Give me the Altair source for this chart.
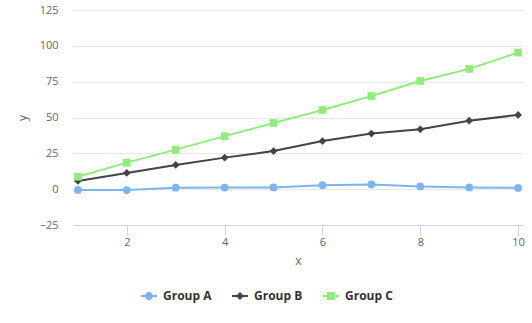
import altair as alt
import pandas as pd

x_values = [1, 2, 3, 4, 5, 6, 7, 8, 9, 10]
group_a = [-0.5, -0.6, 1.0, 1.1, 1.2, 2.8, 3.3, 1.9, 1.2, 0.9]
group_b = [5.7, 11.3, 16.9, 22.0, 26.6, 33.6, 38.8, 41.8, 47.8, 51.8]
group_c = [8.7, 18.5, 27.6, 37.0, 46.2, 55.2, 65.0, 75.5, 83.9, 95.3]
groups = ["Group A", "Group B", "Group C"]
colors = ["#7cb5ec", "#434348", "#90ed7d"]
markers = ["circle", "diamond", "square"]
x_ticks = [2, 4, 6, 8, 10]
y_ticks = [-25, 0, 25, 50, 75, 100, 125]

rows = []
for name, vals in zip(groups, [group_a, group_b, group_c]):
    for xv, yv in zip(x_values, vals):
        rows.append({"x": xv, "y": yv, "Group": name})
df = pd.DataFrame(rows)

FONT = "Open Sans"

x_enc = alt.X("x:Q", title="x",
              scale=alt.Scale(domain=[0.9, 10.1], nice=False, zero=False),
              axis=alt.Axis(values=x_ticks, grid=False, domainColor="#ccd6eb",
                            tickColor="#ccd6eb", tickSize=10, labelPadding=1,
                            labelColor="#666666", labelFontSize=11, labelFont=FONT,
                            titleColor="#666666", titleFontSize=12, titleFont=FONT,
                            titleFontWeight="normal", titlePadding=8))
y_enc = alt.Y("y:Q", title="y",
              scale=alt.Scale(domain=[-25, 125], nice=False, zero=False),
              axis=alt.Axis(values=y_ticks, domain=False, ticks=False,
                            gridColor="#e6e6e6", labelPadding=15,
                            labelColor="#666666", labelFontSize=11, labelFont=FONT,
                            titleColor="#666666", titleFontSize=12, titleFont=FONT,
                            titleFontWeight="normal", titlePadding=10))
color_scale = alt.Scale(domain=groups, range=colors)
color_enc = alt.Color("Group:N", scale=color_scale, legend=None)

line_part = "M-1,-0.125H1V0.125H-1Z "
legend_shapes = [
    line_part + "M-0.5,0A0.5,0.5,0,1,1,0.5,0A0.5,0.5,0,1,1,-0.5,0Z",
    line_part + "M0,-0.5L0.5,0L0,0.5L-0.5,0Z",
    line_part + "M-0.5,-0.5H0.5V0.5H-0.5Z",
]


def make_legend():
    return alt.Legend(title=None, orient="none", direction="horizontal",
                      legendX=68, legendY=278, symbolSize=256,
                      symbolStrokeWidth=0, labelFont=FONT, labelFontSize=12,
                      labelFontWeight="bold", labelColor="#333333",
                      labelOffset=6, columnPadding=20)


base = alt.Chart(df)
layers = [
    base.transform_filter("false").mark_point(filled=True, opacity=1).encode(
        x=x_enc, y=y_enc,
        color=alt.Color("Group:N", scale=color_scale, legend=make_legend()),
        shape=alt.Shape("Group:N", scale=alt.Scale(domain=groups, range=legend_shapes), legend=make_legend()),
    ),
    base.mark_line(strokeWidth=2).encode(x=x_enc, y=y_enc, color=color_enc),
]
for name, mk in zip(groups, markers):
    layers.append(
        base.transform_filter(alt.datum.Group == name)
        .mark_point(filled=True, opacity=1, size=60, shape=mk)
        .encode(x=x_enc, y=y_enc, color=color_enc)
    )

chart = alt.layer(*layers).properties(
    width=450, height=215,
    autosize=alt.AutoSizeParams(type="none"),
    padding={"left": 73, "top": 10, "right": 9, "bottom": 98},
    background="white",
).configure_view(stroke=None)

chart.save("out.html", embed_options={"renderer": "svg", "actions": False})
